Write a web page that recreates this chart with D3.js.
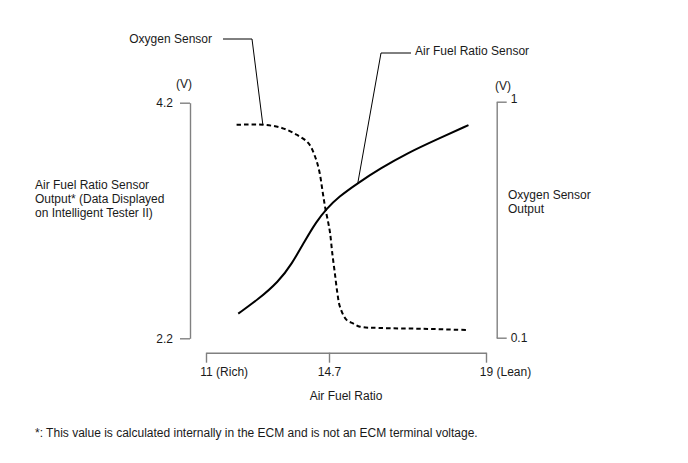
<!DOCTYPE html>
<html>
<head>
<meta charset="utf-8">
<script src="https://cdn.jsdelivr.net/npm/d3@7"></script>
<style>
  html, body { margin: 0; padding: 0; background: #fff; }
  svg { display: block; }
  text { font-family: "Liberation Sans", Arial, sans-serif; font-size: 12px; fill: #1a1a1a; }
</style>
</head>
<body>
<svg id="chart" width="688" height="463"></svg>
<script>
// ---- data ----
const xTicks = [11, 14.7, 19];
const xTickLabels = ["11 (Rich)", "14.7", "19 (Lean)"];
const leftTicks = [2.2, 4.2];
const rightTicks = [0.1, 1];

// Air fuel ratio sensor output (V, left axis)
const afrX = [11.97, 12.57, 13.18, 13.58, 13.98, 14.32, 14.63, 14.96, 15.50, 16.10, 16.83, 17.74, 18.52];
const afrV = [2.41, 2.53, 2.68, 2.83, 3.03, 3.19, 3.30, 3.40, 3.52, 3.64, 3.77, 3.90, 4.01];

// Oxygen sensor output (V, right axis)
const o2X = [11.92, 12.72, 13.28, 13.73, 14.08, 14.28, 14.41, 14.50, 14.58, 14.68, 14.73, 14.79, 14.86, 14.93, 15.00, 15.18, 15.37, 15.55, 16.10, 17.28, 18.52];
const o2V = [0.912, 0.912, 0.900, 0.874, 0.842, 0.791, 0.734, 0.664, 0.600, 0.537, 0.499, 0.422, 0.346, 0.270, 0.218, 0.168, 0.154, 0.142, 0.137, 0.134, 0.129];

// leader anchor points on the curves
const o2Anchor = [12.71, 0.912];
const afrAnchor = [15.49, 3.52];

// ---- drawing ----
const svg = d3.select("#chart");
const axisColor = "#808080";
const FONT = '"Liberation Sans", Arial, sans-serif';

const x = d3.scaleLinear().domain([11, 14.7, 19]).range([206, 329, 486]);
const yL = d3.scaleLinear().domain([2.2, 4.2]).range([338.3, 102.7]);
const yR = d3.scaleLinear().domain([0.1, 1]).range([337.7, 101.7]);

function styleAxis(g) {
  g.select(".domain").attr("stroke", axisColor).attr("stroke-width", 1.4);
  g.selectAll(".tick line").attr("stroke", axisColor).attr("stroke-width", 1.4);
  g.selectAll(".tick text").attr("fill", "#1a1a1a")
    .style("font-family", FONT).style("font-size", "12px");
}

// left axis
const gL = svg.append("g").attr("transform", "translate(190,0)")
  .call(d3.axisLeft(yL).tickValues(leftTicks).tickSize(10).tickSizeOuter(0).tickPadding(7)
    .tickFormat(d3.format(".1f")));
styleAxis(gL);

// right axis
const gR = svg.append("g").attr("transform", "translate(496.7,0)")
  .call(d3.axisRight(yR).tickValues(rightTicks).tickSize(10).tickSizeOuter(0).tickPadding(4)
    .tickFormat(d => d === 1 ? "1" : d3.format(".1f")(d)));
styleAxis(gR);
gR.selectAll(".tick text").filter(d => d === 1).attr("dy", "0.05em");

// bottom axis
const gB = svg.append("g").attr("transform", "translate(0,352.7)")
  .call(d3.axisBottom(x).tickValues(xTicks).tickSize(10).tickSizeOuter(0).tickPadding(5)
    .tickFormat((d, i) => xTickLabels[i]));
styleAxis(gB);
// centre the number part of each label on its tick
gB.selectAll(".tick text").each(function (d, i) {
  const t = d3.select(this);
  const numTxt = String(xTickLabels[i]).split(" ")[0];
  const tmp = svg.append("text").style("font-size", "12px").text(numTxt);
  const w = tmp.node().getComputedTextLength();
  tmp.remove();
  t.attr("text-anchor", "start").attr("x", -w / 2);
});

// curves
const afrLine = d3.line().x(d => x(d[0])).y(d => yL(d[1])).curve(d3.curveBasis);
const o2Line = d3.line().x(d => x(d[0])).y(d => yR(d[1])).curve(d3.curveCatmullRom.alpha(0.5));

svg.append("path")
  .datum(afrX.map((v, i) => [v, afrV[i]]))
  .attr("d", afrLine).attr("fill", "none").attr("stroke", "#000").attr("stroke-width", 2);

svg.append("path")
  .datum(o2X.map((v, i) => [v, o2V[i]]))
  .attr("d", o2Line).attr("fill", "none").attr("stroke", "#000").attr("stroke-width", 2)
  .attr("stroke-dasharray", "4.5,3");

// leaders and series labels
const o2P = [x(o2Anchor[0]), yR(o2Anchor[1])];
svg.append("polyline")
  .attr("points", [[223, 39], [252, 39], o2P].map(p => p.join(",")).join(" "))
  .attr("fill", "none").attr("stroke", "#000").attr("stroke-width", 1);
svg.append("text").attr("x", 212).attr("y", 43).attr("text-anchor", "end").text("Oxygen Sensor");

const afrP = [x(afrAnchor[0]), yL(afrAnchor[1])];
svg.append("polyline")
  .attr("points", [[411, 53], [381, 53], afrP].map(p => p.join(",")).join(" "))
  .attr("fill", "none").attr("stroke", "#000").attr("stroke-width", 1);
svg.append("text").attr("x", 415).attr("y", 55).text("Air Fuel Ratio Sensor");

// unit labels
svg.append("text").attr("x", 184).attr("y", 88).attr("text-anchor", "middle").text("(V)");
svg.append("text").attr("x", 503).attr("y", 90).attr("text-anchor", "middle").text("(V)");

// axis titles
const leftTitle = ["Air Fuel Ratio Sensor", "Output* (Data Displayed", "on Intelligent Tester II)"];
svg.append("text").attr("x", 35).attr("y", 189)
  .selectAll("tspan").data(leftTitle).join("tspan")
  .attr("x", 35).attr("dy", (d, i) => i === 0 ? 0 : 14).text(d => d);

const rightTitle = ["Oxygen Sensor", "Output"];
svg.append("text").attr("x", 508).attr("y", 199)
  .selectAll("tspan").data(rightTitle).join("tspan")
  .attr("x", 508).attr("dy", (d, i) => i === 0 ? 0 : 14).text(d => d);

svg.append("text").attr("x", 346).attr("y", 400).attr("text-anchor", "middle").text("Air Fuel Ratio");

svg.append("text").attr("x", 35).attr("y", 437)
  .text("*: This value is calculated internally in the ECM and is not an ECM terminal voltage.");
</script>
</body>
</html>
